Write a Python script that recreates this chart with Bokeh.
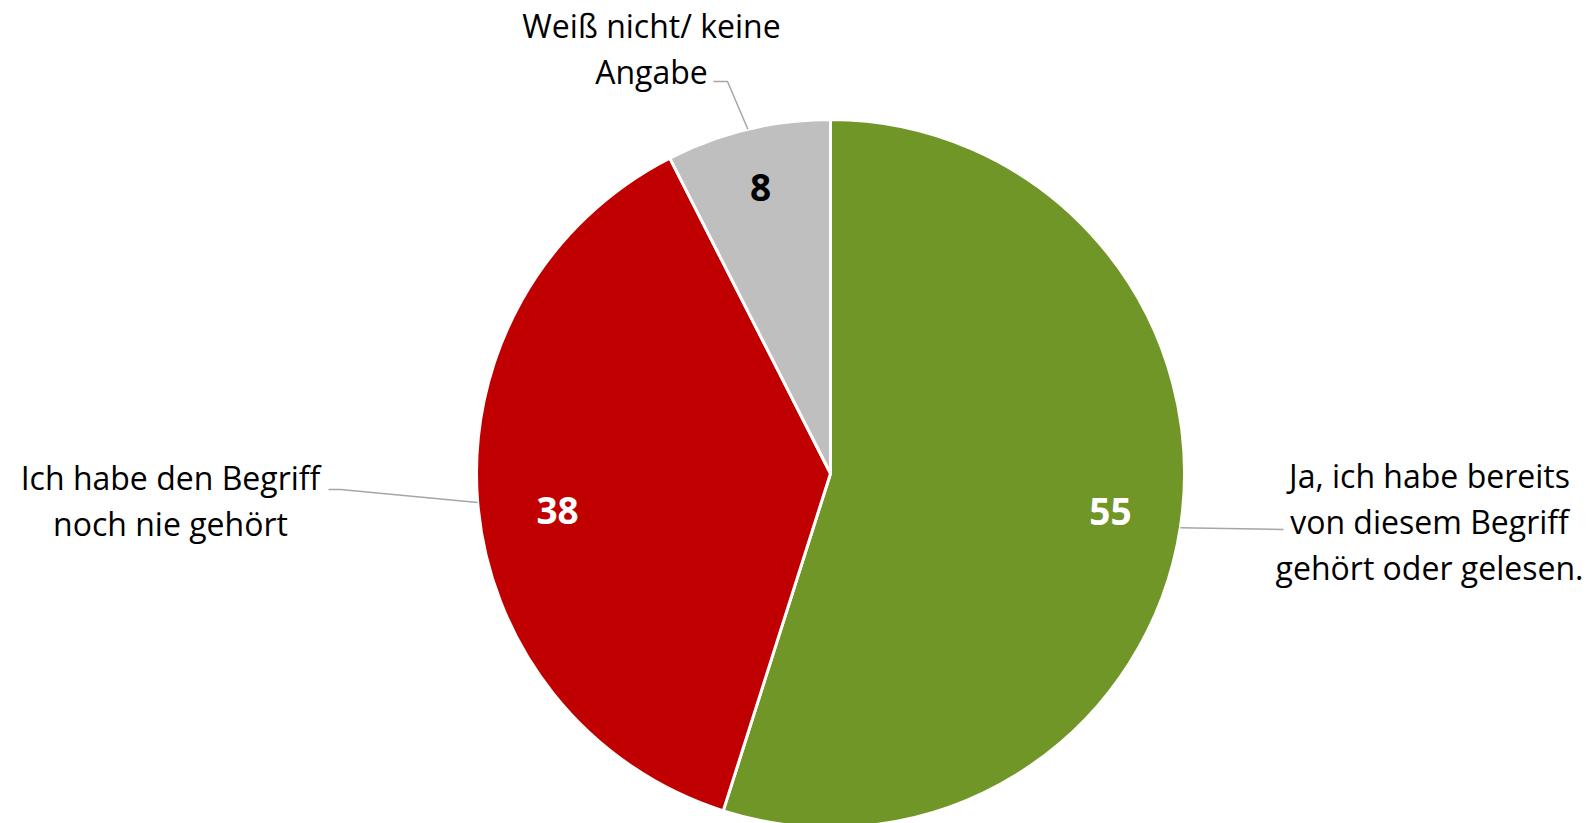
import math
from bokeh.plotting import figure
from bokeh.models import Range1d
from bokeh.core.properties import value
from bokeh.embed import file_html
from bokeh.resources import INLINE

# ---- data ----
categories = [
    "Ja, ich habe bereits\nvon diesem Begriff\ngehört oder gelesen.",
    "Ich habe den Begriff\nnoch nie gehört",
    "Weiß nicht/ keine\nAngabe",
]
values = [54.9, 37.6, 7.5]
value_labels = ["55", "38", "8"]
colors = ["#709628", "#C00000", "#BFBFBF"]
value_label_colors = ["white", "white", "black"]

# ---- layout ----
W, H = 1591, 823
FONT = "Open Sans"


def px(x):
    return x


def py(y):
    return H - y


cx, cy, R = px(830), py(473), 354
label_radius_factor = [0.798, 0.778, 0.832]
label_angle_offset_deg = [1.1, 3.0, 0.25]
# label text anchor (page coords: center x, first line center y), leader elbow, leader end
label_pos = [(1429, 475), (170, 477), (651, 25)]
leader_pts = [[(1283, 529)], [(340, 489), (328, 489)], [(727, 81), (713, 81)]]
LINE_STEP = 46

p = figure(width=W, height=H, x_range=Range1d(0, W), y_range=Range1d(0, H),
           output_backend="svg", toolbar_location=None, min_border=0,
           x_axis_type=None, y_axis_type=None)
p.xgrid.grid_line_color = None
p.ygrid.grid_line_color = None
p.outline_line_color = None
p.background_fill_color = "white"

total = sum(values)
start = math.pi / 2
starts, ends, mids = [], [], []
for v in values:
    end = start - v / total * 2 * math.pi
    starts.append(start)
    ends.append(end)
    mids.append((start + end) / 2)
    start = end

p.wedge(x=[cx] * len(values), y=[cy] * len(values), radius=R,
        start_angle=starts, end_angle=ends, direction="clock",
        fill_color=colors, line_color="white", line_width=3)

# leader lines
for i, m in enumerate(mids):
    ex, ey = cx + R * math.cos(m), cy + R * math.sin(m)
    xs = [ex] + [px(a) for a, b in leader_pts[i]]
    ys = [ey] + [py(b) for a, b in leader_pts[i]]
    p.line(xs, ys, line_color="#A6A6A6", line_width=1.5)

# value labels
la = [m + math.radians(o) for m, o in zip(mids, label_angle_offset_deg)]
vx = [cx + R * f * math.cos(a) for f, a in zip(label_radius_factor, la)]
vy = [cy + R * f * math.sin(a) for f, a in zip(label_radius_factor, la)]
p.text(x=vx, y=vy, text=value_labels, text_color=value_label_colors,
       text_font=value(FONT), text_font_style="bold", text_font_size="37px",
       text_align="center", text_baseline="middle")

# category labels
tx, ty, tt = [], [], []
for (lx, ly), cat in zip(label_pos, categories):
    for j, line in enumerate(cat.split("\n")):
        tx.append(px(lx))
        ty.append(py(ly + j * LINE_STEP))
        tt.append(line)
p.text(x=tx, y=ty, text=tt, text_color="black", text_font=value(FONT),
       text_font_size="32px", text_align="center", text_baseline="middle")

open("out.html", "w").write(file_html(p, INLINE))
